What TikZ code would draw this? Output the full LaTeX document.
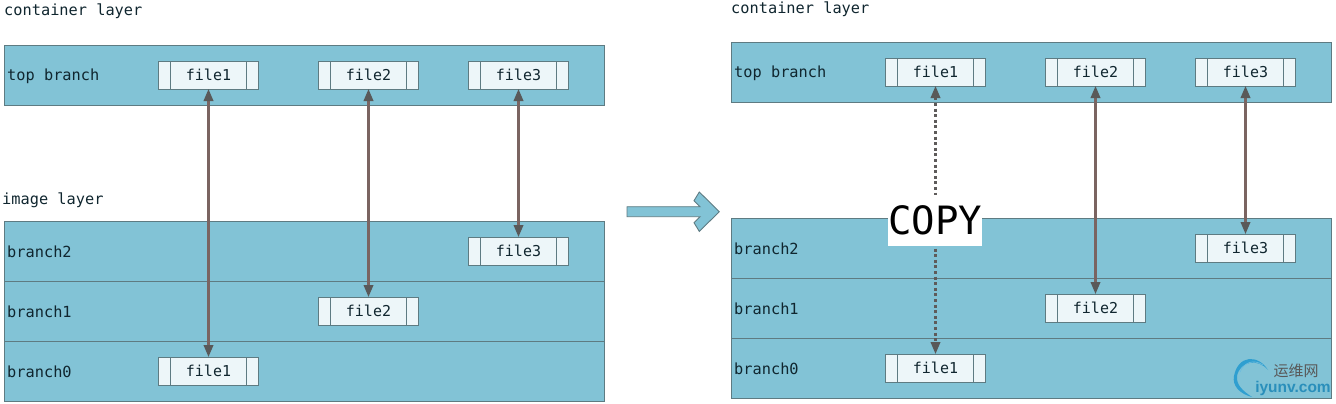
\documentclass[tikz,border=0pt]{standalone}
\usepackage{fontspec}
\setmonofont{DejaVu Sans Mono}
\newfontfamily\cjkf{Noto Sans CJK SC}
\newfontfamily\wmf{Liberation Sans}
\usetikzlibrary{arrows.meta}
\definecolor{lay}{HTML}{82C3D6}
\definecolor{edge}{HTML}{5E7B82}
\definecolor{fbox}{HTML}{EDF6F9}
\definecolor{ink}{HTML}{10262F}
\definecolor{arr}{HTML}{7A6461}
\definecolor{tip}{HTML}{595959}
\definecolor{wmblue}{HTML}{2F9FD0}
\tikzset{
  layer/.style={draw=edge,fill=lay,line width=0.9pt,minimum width=600pt,minimum height=#1,inner sep=0pt,outer sep=0pt},
  filebox/.style={draw=edge,fill=fbox,line width=0.8pt,minimum width=100pt,minimum height=28pt,inner sep=0pt,outer sep=0pt,text=ink,
    font=\ttfamily\fontsize{15}{16}\selectfont,
    path picture={\draw[edge,line width=0.8pt] ([xshift=12pt]path picture bounding box.south west)--([xshift=12pt]path picture bounding box.north west)
      ([xshift=-12pt]path picture bounding box.south east)--([xshift=-12pt]path picture bounding box.north east);}},
  lab/.style={anchor=west,inner sep=0pt,text=ink,font=\ttfamily\fontsize{15.3}{16}\selectfont},
  link/.style={draw=arr,line width=2.15pt,{Triangle[length=12pt,width=9.5pt,color=tip]}-{Triangle[length=12pt,width=9.5pt,color=tip]}},
  dlink/.style={link,draw=tip!85!arr,dash pattern=on 3pt off 2.6pt},
}
\begin{document}
\begin{tikzpicture}[x=1pt,y=-1pt]
\useasboundingbox (0,0) rectangle (1336,404);
% left
\node[layer=60pt] (LT) at (304,75) {};
\node[layer=60pt] (L2) at (304,251) {};
\node[layer=60pt] (L1) at (304,311) {};
\node[layer=60pt] (L0) at (304,371) {};
\node[lab] (lc) at (4,11) {container layer};
\node[lab] (li) at (2,200) {image layer};
\node[lab] (ltl) at (7,76) {top branch};
\node[lab] (l2l) at (7,251.5) {branch2};
\node[lab] (l1l) at (7,311.5) {branch1};
\node[lab] (l0l) at (7,371.5) {branch0};
\node[filebox] (ltf1) at (208.5,75) {file1};
\node[filebox] (ltf2) at (368.5,75) {file2};
\node[filebox] (ltf3) at (518.5,75) {file3};
\node[filebox] (lbf3) at (518.5,251) {file3};
\node[filebox] (lbf2) at (368.5,311) {file2};
\node[filebox] (lbf1) at (208.5,371) {file1};
\draw[link] (ltf1) -- (lbf1);
\draw[link] (ltf2) -- (lbf2);
\draw[link] (ltf3) -- (lbf3);
% right
\node[layer=60pt] (RT) at (1031,72) {};
\node[layer=60pt] (R2) at (1031,248) {};
\node[layer=60pt] (R1) at (1031,308) {};
\node[layer=60pt] (R0) at (1031,368) {};
\node[lab] (rc) at (731,9) {container layer};
\node[lab] (rtl) at (734,73) {top branch};
\node[lab] (r2l) at (734,248.5) {branch2};
\node[lab] (r1l) at (734,308.5) {branch1};
\node[lab] (r0l) at (734,368.5) {branch0};
\node[filebox] (rtf1) at (935.5,72) {file1};
\node[filebox] (rtf2) at (1095.5,72) {file2};
\node[filebox] (rtf3) at (1245.5,72) {file3};
\node[filebox] (rbf3) at (1245.5,248) {file3};
\node[filebox] (rbf2) at (1095.5,308) {file2};
\node[filebox] (rbf1) at (935.5,368) {file1};
\draw[dlink] (rtf1) -- (rbf1);
\draw[link] (rtf2) -- (rbf2);
\draw[link] (rtf3) -- (rbf3);
\node[fill=white,minimum width=94pt,minimum height=51pt,inner sep=0pt,text=black,font=\ttfamily\fontsize{39}{40}\selectfont] (copy) at (935,220.5) {COPY};
% big arrow
\draw[edge,fill=lay,line width=0.9pt] (627,206.7) -- (700,206.7) -- (694,200.7) -- (699.3,192) -- (719.3,211.7) -- (699.3,231.4) -- (694,222.7) -- (700,216.7) -- (627,216.7) -- cycle;
% watermark
\fill[wmblue] (1268,370) .. controls (1258,354) and (1238,355) .. (1234,376) .. controls (1232,386) and (1240,394) .. (1252,397) .. controls (1243,391) and (1236,385) .. (1237,376) .. controls (1240,361) and (1258,358) .. (1268,370) -- cycle;
\draw[wmblue!70!white,line width=0.7pt] (1263,365) .. controls (1254,359) and (1244,362) .. (1240,372);
\node[inner sep=0pt,text=black!65,font=\cjkf\fontsize{15}{16}\selectfont] (wm1) at (1296,371) {运维网};
\node[inner sep=0pt,text=wmblue!90!black,font=\wmf\bfseries\fontsize{15.5}{16}\selectfont] (wm2) at (1293,388) {iyunv.com};
\end{tikzpicture}
\end{document}
